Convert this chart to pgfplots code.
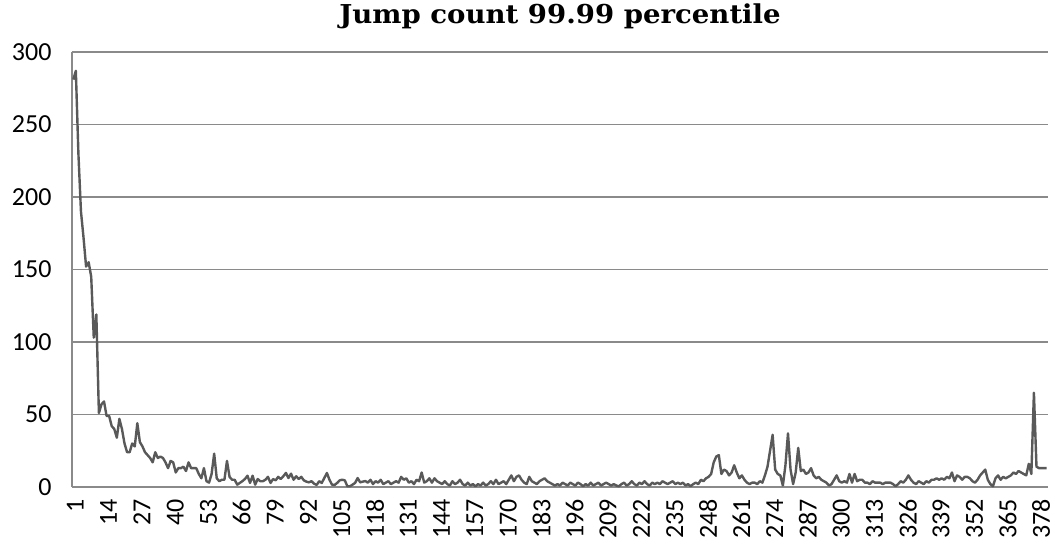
\documentclass[border=0pt]{standalone}
\usepackage{fontspec}
\setmainfont{Carlito}
\newfontfamily\titlefont{DejaVu Serif}
\usepackage{graphicx}
\usepackage{pgfplots}
\usepackage{pgfplotstable}
\pgfplotsset{compat=1.18}

\definecolor{gridgray}{HTML}{8A8A8A}
\definecolor{linegray}{HTML}{595959}

% Jump count per step (one value per row, step = row number)
\pgfplotstableread{
jumps
281
287
230
190
172
152
155
145
103
119
51
57
59
49
49
42
40
34
47
40
30
24
24
30
28
44
31
28
24
22
20
17
24
20
21
20
17
13
18
17
10
13
13
14
11
17
13
13
13
9
6
13
4
3
9
23
6
4
5
5
18
7
5
5
1.6
2.8
4
5.5
7.8
2.8
7.8
1.6
5.5
4
4
5
7
2.8
5.5
4.6
7
5.5
7.4
9.7
6.2
9.2
5
7.4
5.5
7
4.6
3.7
3.2
4
2.3
1.4
4
2.8
6.2
9.7
5
1.6
1.4
2.8
4.6
5
4.6
0.5
0.5
1.6
2.8
6.2
3.2
3.7
4.1
3
5
2
4
3
5
2
3
4
2
3
4
3
7
5
6
3
4
2
5
4
10
3
4
6
3
6
4
3
2
4
2
1
4
2
3
5
2
1
3
1
2
0.5
2
1
3
1
2
4
2
5
2
3
4
2
5
8
4
7
8
5
3
2
7
4
3
2
4
5
6
4
3
2
1
2
1
3
2
1
3
2
1
3
2
0.5
2
1
3
1
2
3
1
2
3
2
1
2
1
0.5
2
3
1
2
4
2
1
3
2
4
2
1
3
2
3
2
4
3
2
3
4
2
3
2
3
1
2
0.5
2
3
2
5
4
6
7
9
17
21
22
9
12
11
8
10
15
10
6
8
5
3
2
3
3
2
4
3
8
14
25
36
12
9
8
1
15
37
12
2
10
27
11
12
9
10
13
8
6
7
5
4
3
1
2
5
8
4
3
4
3
9
3
9
4
5
5
3
3
2
4
3
3
3
2
3
3
3
2
0.5
2
4
3
5
8
5
3
2
4
3
2
4
3
5
5
6
5
6
5
7
6
10
4
8
7
5
7
7
6
4
3
5
8
10
12
5
2
0.5
6
8
5
7
6
7
8
10
9
11
10
9
8
16
9
65
14
13
13
13
13
}\jumpdata

\begin{document}
\begin{tikzpicture}
\begin{axis}[
  scale only axis,
  width=976bp, height=435bp,
  xmin=0.5, xmax=381.5,
  ymin=0, ymax=300,
  ytick={0,50,...,300},
  xtick={1,14,...,378},
  axis x line*=bottom,
  axis y line*=left,
  axis line style={draw=gridgray, line width=1.4bp},
  ymajorgrids,
  grid style={draw=gridgray, line width=1.4bp},
  major tick length=0pt,
  /pgf/number format/assume math mode=true,
  tick label style={font=\fontsize{26bp}{26bp}\selectfont, text=black},
  yticklabel style={xshift=-17bp},
  % shifts act in the rotated frame: x moves the labels down, y moves them left
  xticklabel style={rotate=90, anchor=east, inner sep=1bp, xshift=-11bp, yshift=-2bp},
  title={\scalebox{1.06}[1]{Jump count 99.99 percentile}},
  title style={font=\titlefont\bfseries\fontsize{26bp}{26bp}\selectfont,
    at={(0.5,1)}, anchor=south, yshift=17bp, inner sep=0pt},
  clip=false,
]
\addplot[linegray, line width=2.4bp, line join=round, no markers]
  table[x expr=\coordindex+1, y=jumps] {\jumpdata};
\end{axis}
\pgfresetboundingbox
\path ([shift={(-72bp,-57bp)}]current axis.south west)
  rectangle ([shift={(4bp,52bp)}]current axis.north east);
\end{tikzpicture}
\end{document}
